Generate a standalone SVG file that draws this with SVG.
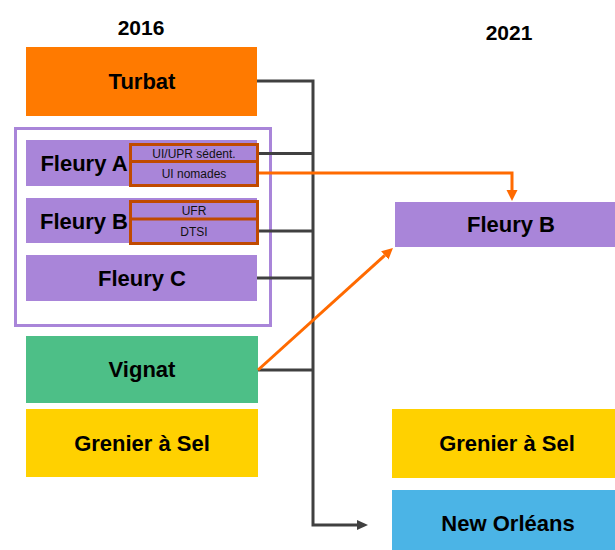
<svg xmlns="http://www.w3.org/2000/svg" width="615" height="550" viewBox="0 0 615 550">
<defs>
<style>
.t{font-family:"Liberation Sans",Arial,sans-serif;font-weight:bold;font-size:22px;fill:#000;text-anchor:middle}
.y{font-family:"Liberation Sans",Arial,sans-serif;font-weight:bold;font-size:21px;fill:#000;text-anchor:middle}
.s{font-family:"Liberation Sans",Arial,sans-serif;font-size:12px;fill:#111;text-anchor:middle}
.g{fill:none;stroke:#404040;stroke-width:3}
.o{fill:none;stroke:#FF6A00;stroke-width:3}
.sub{fill:none;stroke:#C04A00;stroke-width:3}
.pur{fill:#A985D9}
</style>
<marker id="ag" markerUnits="userSpaceOnUse" markerWidth="12" markerHeight="12" viewBox="0 0 12 12" refX="0" refY="6" orient="auto">
<path d="M0,1 L11,6 L0,11 z" fill="#404040"/>
</marker>
<marker id="ao" markerUnits="userSpaceOnUse" markerWidth="12" markerHeight="12" viewBox="0 0 12 12" refX="0" refY="6" orient="auto">
<path d="M0,0.5 L11,6 L0,11.5 z" fill="#FF6A00"/>
</marker>
</defs>
<rect width="615" height="550" fill="#fff"/>
<text class="y" x="141" y="35">2016</text>
<text class="y" x="509" y="40">2021</text>

<g id="turbat">
<rect x="26" y="47" width="231" height="69" fill="#FF7A00"/>
<text class="t" x="142" y="88.5">Turbat</text>
</g>

<g id="fleury-group">
<rect x="15.5" y="128.5" width="255" height="197" fill="none" stroke="#A985D9" stroke-width="3"/>
</g>

<g id="fleury-a">
<rect class="pur" x="26" y="140" width="231" height="46"/>
<text class="t" x="84" y="171">Fleury A</text>
<rect class="sub" x="130.5" y="144.5" width="127" height="41"/>
<line class="sub" x1="130.5" y1="161.5" x2="257.5" y2="161.5"/>
<text class="s" x="194" y="157.5">UI/UPR sédent.</text>
<text class="s" x="194" y="178">UI nomades</text>
</g>

<g id="fleury-b">
<rect class="pur" x="26" y="198" width="231" height="45"/>
<text class="t" x="84" y="228.5">Fleury B</text>
<rect class="sub" x="130.5" y="201.5" width="127" height="42"/>
<line class="sub" x1="130.5" y1="219" x2="257.5" y2="219"/>
<text class="s" x="194" y="215">UFR</text>
<text class="s" x="194" y="235.5">DTSI</text>
</g>

<g id="fleury-c">
<rect class="pur" x="26" y="255" width="231" height="46"/>
<text class="t" x="142" y="286">Fleury C</text>
</g>

<g id="vignat">
<rect x="26" y="336" width="232" height="67" fill="#4DBF87"/>
<text class="t" x="142" y="377">Vignat</text>
</g>

<g id="grenier-2016">
<rect x="26" y="409" width="232" height="68" fill="#FFD100"/>
<text class="t" x="142" y="450.5">Grenier à Sel</text>
</g>

<g id="fleury-b-2021">
<rect class="pur" x="395" y="202" width="225" height="45"/>
<text class="t" x="511" y="232">Fleury B</text>
</g>

<g id="grenier-2021">
<rect x="392" y="409" width="228" height="69" fill="#FFD100"/>
<text class="t" x="507" y="451">Grenier à Sel</text>
</g>

<g id="new-orleans">
<rect x="392" y="490" width="228" height="65" fill="#4BB4E6"/>
<text class="t" x="508" y="531">New Orléans</text>
</g>

<g id="connectors">
<path class="g" d="M257,81 H313 V525 H357" marker-end="url(#ag)"/>
<path class="g" d="M259,153.5 H313"/>
<path class="g" d="M259,231 H313"/>
<path class="g" d="M257,278 H313"/>
<path class="g" d="M258,370 H313"/>
<path class="o" d="M259,173 H512 V190" marker-end="url(#ao)"/>
<path class="o" d="M258,370 L384.8,255.4" marker-end="url(#ao)"/>
</g>
</svg>
